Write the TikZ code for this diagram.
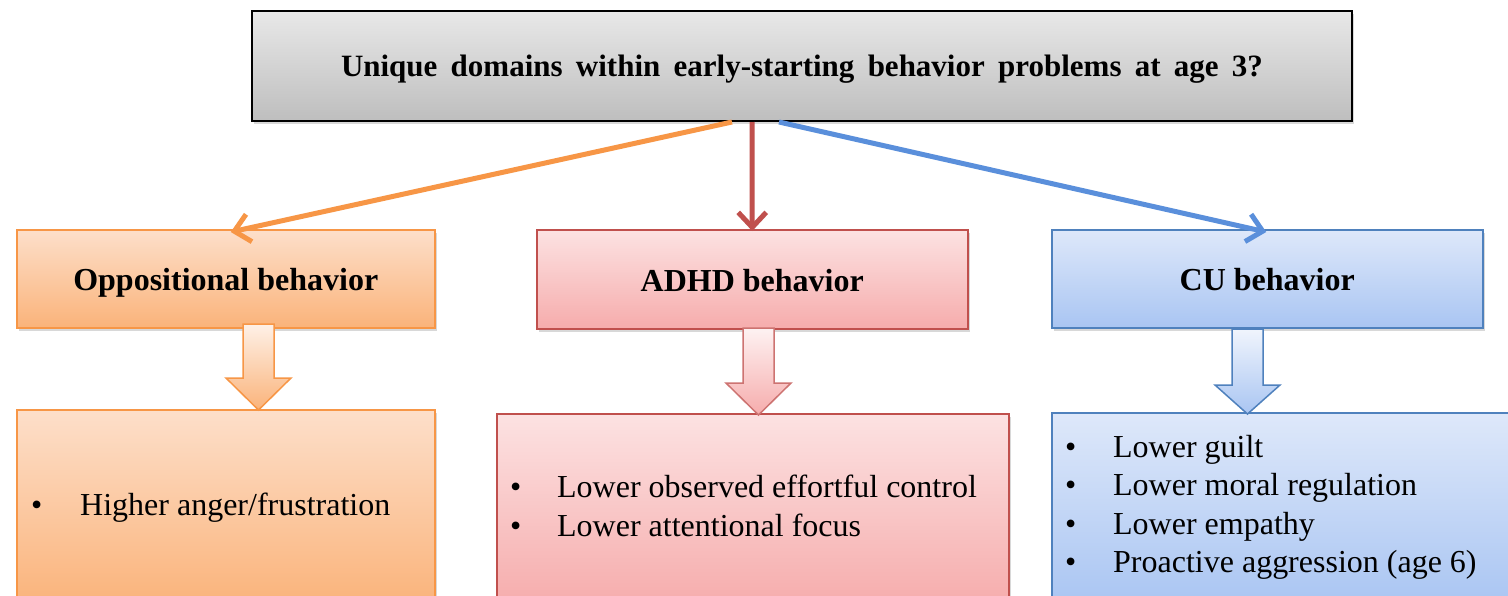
\documentclass[tikz,border=0pt]{standalone}
\usepackage{fontspec}
\setmainfont{Liberation Serif}
\usetikzlibrary{arrows.meta,shadows,calc}
\definecolor{obord}{HTML}{F79646}
\definecolor{rbord}{HTML}{C0504D}
\definecolor{bbord}{HTML}{4F81BD}
\definecolor{oline}{HTML}{F79646}
\definecolor{rline}{HTML}{C0504D}
\definecolor{bline}{HTML}{5A8FDB}
\definecolor{otop}{HTML}{FDDFCA}
\definecolor{obot}{HTML}{FAB37A}
\definecolor{rtop}{HTML}{FCE2E2}
\definecolor{rbot}{HTML}{F6ACAC}
\definecolor{btop}{HTML}{DEE8FA}
\definecolor{bbot}{HTML}{A9C5F2}
\definecolor{gtop}{HTML}{E8E8E8}
\definecolor{gbot}{HTML}{BEBEBE}
\begin{document}
\begin{tikzpicture}[x=1pt,y=-1pt,
  boxshadow/.style={drop shadow={opacity=0.3,shadow xshift=2pt,shadow yshift=-3pt}},
  topbox/.style={draw=black,line width=2pt,top color=gtop,bottom color=gbot,boxshadow,
    anchor=north west,inner sep=0pt,text height=20pt,text depth=0pt,
    font=\fontsize{31}{37}\selectfont\bfseries},
  headbox/.style={line width=1.5pt,boxshadow,anchor=north west,inner sep=0pt,
    text height=24pt,text depth=0pt,font=\fontsize{32}{38}\selectfont\bfseries},
  obox/.style={draw=obord,top color=otop,bottom color=obot},
  rbox/.style={draw=rbord,top color=rtop,bottom color=rbot},
  bbox/.style={draw=bbord,top color=btop,bottom color=bbot},
  listbox/.style={line width=1.5pt,boxshadow,anchor=north west,inner sep=0pt},
  btext/.style={anchor=base west,inner sep=0pt,font=\fontsize{32}{38}\selectfont},
  conn/.style={line width=5pt,-{Straight Barb[length=15pt,width=28pt,line width=5pt]}},
  blockarrow/.style={line width=1.5pt,line join=miter}
]
\useasboundingbox (0,0) rectangle (1508,595);
\clip (0,0) rectangle (1508,595);
\fill[white] (0,0) rectangle (1508,595);

% top box
\node[topbox,minimum width=1100pt,minimum height=110pt] (top) at (251,10)
  {\makebox[922pt][s]{Unique domains within early-starting behavior problems at age 3?}};

% heading boxes
\node[headbox,obox,minimum width=418pt,minimum height=98pt] (ob) at (16,229) {Oppositional behavior};
\node[headbox,rbox,minimum width=431pt,minimum height=99pt] (rb) at (536,229) {ADHD behavior};
\node[headbox,bbox,minimum width=431pt,minimum height=98pt] (bb) at (1051,229) {CU behavior};

% list boxes
\node[listbox,obox,minimum width=418pt,minimum height=196pt] (ol) at (16,409) {};
\node[listbox,rbox,minimum width=512pt,minimum height=192pt] (rl) at (496,413) {};
\node[listbox,bbox,minimum width=470pt,minimum height=193pt] (bl) at (1051,412) {};

% connectors
\draw[conn,oline] ([xshift=-70pt]top.south) -- ([xshift=5pt,yshift=-3pt]ob.north);
\draw[conn,rline] ([xshift=-50pt]top.south) -- ([yshift=-2pt]rb.north);
\draw[conn,bline] ([xshift=-23pt]top.south) -- ([xshift=-1pt,yshift=-3pt]bb.north);

% block arrows
\path[blockarrow,draw=obord,top color=otop!45!white,bottom color=obot]
  (243,324) -- (274,324) -- (274,378) -- (291,378) -- (258.5,410) -- (226,378) -- (243,378) -- cycle;
\path[blockarrow,draw=rbord!80!white,top color=rtop!45!white,bottom color=rbot]
  (743,328) -- (774,328) -- (774,383) -- (791,383) -- (758.5,415) -- (726,383) -- (743,383) -- cycle;
\path[blockarrow,draw=bbord,top color=btop!45!white,bottom color=bbot]
  (1232,329) -- (1263,329) -- (1263,385) -- (1280,385) -- (1247.5,414) -- (1215,385) -- (1232,385) -- cycle;

% list texts
\node[btext] (o1) at (31,515) {\makebox[49pt][l]{•}Higher anger/frustration};
\node[btext] (r1) at (510,497) {\makebox[47pt][l]{•}Lower observed effortful control};
\node[btext] (r2) at (510,536) {\makebox[47pt][l]{•}Lower attentional focus};
\node[btext] (b1) at (1065,457) {\makebox[48pt][l]{•}Lower guilt};
\node[btext] (b2) at (1065,495) {\makebox[48pt][l]{•}Lower moral regulation};
\node[btext] (b3) at (1065,534) {\makebox[48pt][l]{•}Lower empathy};
\node[btext] (b4) at (1065,572) {\makebox[48pt][l]{•}Proactive aggression (age 6)};
\end{tikzpicture}
\end{document}
